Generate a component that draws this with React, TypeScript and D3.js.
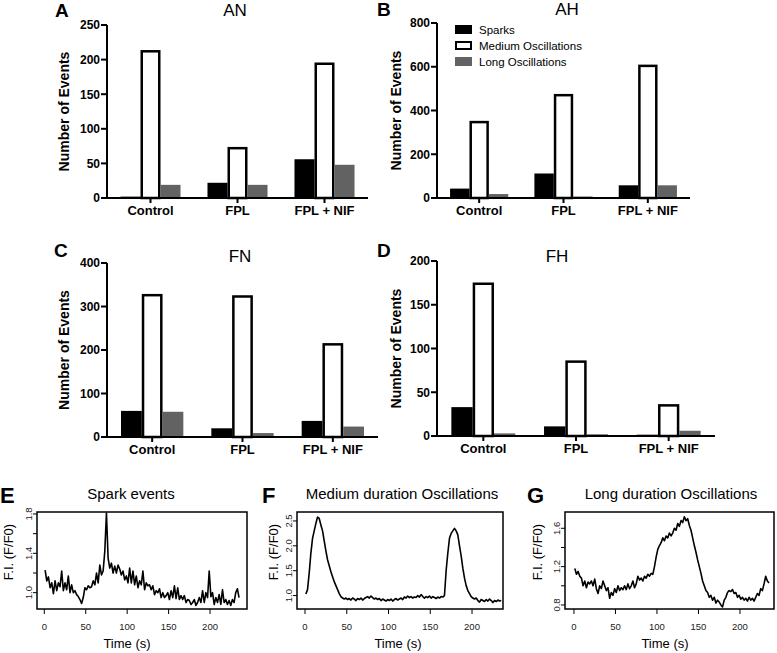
import * as d3 from "d3";

const groups = ["Control", "FPL", "FPL + NIF"];
const seriesNames = ["Sparks", "Medium Oscillations", "Long Oscillations"];
const seriesFill = ["#000000", "#ffffff", "#626262"];

// bar counts
const anSparks = [2, 22, 56];
const anMedium = [212, 72, 194];
const anLong = [19, 19, 48];

const ahSparks = [43, 112, 58];
const ahMedium = [347, 470, 604];
const ahLong = [18, 7, 58];

const fnSparks = [60, 20, 37];
const fnMedium = [326, 323, 213];
const fnLong = [58, 9, 24];

const fhSparks = [33, 11, 1.5];
const fhMedium = [174, 85, 35];
const fhLong = [3, 2, 6];

// example traces, sampled every 2 s starting at 1 s
const sparkTrace = [
  1.23, 1.12, 1.16, 1.05, 1.1, 0.99, 1.12, 1.02, 1.1, 1.06, 1.22, 1.02, 1.1, 1.03, 1.17, 1.0, 1.08, 1.0, 1.02, 0.98,
  0.96, 0.93, 0.89, 0.95, 1.05, 1.03, 1.07, 1.05, 1.06, 1.12, 1.08, 1.2, 1.1, 1.28, 1.18, 1.22, 1.42, 1.81, 1.35, 1.25,
  1.3, 1.2, 1.27, 1.2, 1.28, 1.24, 1.18, 1.22, 1.13, 1.17, 1.1, 1.25, 1.1, 1.22, 1.08, 1.17, 1.05, 1.12, 1.08, 1.22,
  1.03, 1.1, 1.07, 1.08, 1.03, 1.07, 0.98, 1.02, 1.0, 1.04, 0.95, 1.0, 0.95, 0.97, 1.0, 0.93, 1.02, 0.95, 1.07, 0.94,
  1.05, 0.93, 0.97, 0.93, 0.97, 0.9, 0.93, 0.92, 0.88, 0.9, 0.93, 0.87, 0.9, 0.95, 0.9, 1.02, 0.9, 1.0, 0.95, 1.22,
  0.96, 1.0, 0.88, 0.95, 0.9, 0.98, 0.88, 1.03, 0.9, 0.93, 0.88, 0.92, 0.87, 0.93, 0.9, 1.0, 1.04, 0.95,
];

const mediumTrace = [
  1.03, 1.12, 1.45, 1.85, 2.15, 2.3, 2.45, 2.58, 2.55, 2.42, 2.3, 2.1, 1.9, 1.72, 1.6, 1.48, 1.38, 1.28, 1.2, 1.12,
  1.04, 0.98, 0.95, 0.93, 0.95, 0.92, 0.94, 0.91, 0.95, 0.93, 0.9, 0.94, 0.92, 0.95, 0.91, 0.94, 0.96, 0.98, 0.95, 0.99,
  0.96, 0.93, 0.95, 0.92, 0.94, 0.9, 0.93, 0.91, 0.89, 0.92, 0.9, 0.93, 0.89, 0.92, 0.94, 0.91, 0.93, 0.95, 0.92, 0.97,
  0.95, 0.99, 0.96, 0.98, 0.95, 0.97, 0.96, 1.0, 0.97, 1.02, 0.98, 0.95, 0.98, 0.96, 0.99, 0.95, 0.98, 0.96, 0.94, 0.97,
  0.95, 0.98, 0.97, 1.0, 1.5, 1.85, 2.15, 2.25, 2.3, 2.35, 2.3, 2.22, 2.0, 1.8, 1.55, 1.35, 1.2, 1.1, 1.04, 0.98,
  0.95, 0.93, 0.95, 0.9, 0.87, 0.92, 0.9, 0.88, 0.92, 0.89, 0.93, 0.9, 0.86, 0.9, 0.88, 0.91, 0.89, 0.9,
];

const longTrace = [
  1.18, 1.12, 1.15, 1.1, 1.08, 1.0, 1.05, 0.98, 1.04, 1.02, 1.05, 1.0, 1.07, 0.97, 0.92, 1.0, 0.97, 1.05, 1.0, 0.95,
  0.98, 0.87, 0.93, 0.9, 0.97, 0.93, 1.0, 0.95, 0.98, 0.96, 1.0, 0.96, 1.02, 0.97, 1.0, 1.05, 0.98, 1.02, 1.1, 1.06,
  1.08, 1.05, 1.1, 1.08, 1.12, 1.1, 1.13, 1.12, 1.2, 1.3, 1.38, 1.42, 1.45, 1.5, 1.47, 1.52, 1.5, 1.55, 1.52, 1.55,
  1.6, 1.58, 1.65, 1.62, 1.68, 1.66, 1.72, 1.68, 1.7, 1.63, 1.58, 1.5, 1.42, 1.35, 1.27, 1.2, 1.13, 1.05, 1.0, 0.95,
  0.93, 0.88, 0.9, 0.85, 0.88, 0.82, 0.85, 0.83, 0.8, 0.78, 0.85, 0.88, 0.93, 0.95, 0.94, 0.96, 0.92, 0.93, 0.88, 0.9,
  0.86, 0.88, 0.85, 0.87, 0.84, 0.88, 0.85, 0.87, 0.84, 0.88, 0.92, 0.9, 0.97, 0.95, 1.02, 1.1, 1.05, 1.03,
];

const traceXTicks = [0, 50, 100, 150, 200];
const sparkYTicks = [1.0, 1.2, 1.4, 1.6, 1.8];
const sparkYLabels = [1.0, 1.4, 1.8];
const mediumYTicks = [1.0, 1.5, 2.0, 2.5];
const longYTicks = [0.8, 1.0, 1.2, 1.4, 1.6];
const longYLabels = [0.8, 1.2, 1.6];

const FONT = "'Liberation Sans', Arial, Helvetica, sans-serif";

const barPanels = [
  { letter: "A", title: "AN", left: 107, right: 368, top: 25, bottom: 198, yMax: 250, yStep: 50,
    letterX: 55, letterY: 17, titleX: 235, titleY: 16, yTitleX: 64,
    values: [anSparks, anMedium, anLong], legend: false },
  { letter: "B", title: "AH", left: 437, right: 690, top: 23, bottom: 198, yMax: 800, yStep: 200,
    letterX: 377, letterY: 16, titleX: 567, titleY: 15, yTitleX: 396,
    values: [ahSparks, ahMedium, ahLong], legend: true },
  { letter: "C", title: "FN", left: 107, right: 378, top: 263, bottom: 437, yMax: 400, yStep: 100,
    letterX: 54, letterY: 257, titleX: 240, titleY: 262, yTitleX: 64,
    values: [fnSparks, fnMedium, fnLong], legend: false },
  { letter: "D", title: "FH", left: 437, right: 715, top: 261, bottom: 436, yMax: 200, yStep: 50,
    letterX: 377, letterY: 257, titleX: 557, titleY: 262, yTitleX: 396,
    values: [fhSparks, fhMedium, fhLong], legend: false },
];

const tracePanels = [
  { letter: "E", title: "Spark events", left: 37, right: 247, xDomain: [-8.8, 244.6], yDomain: [0.834, 1.82],
    letterX: 0, titleX: 131, xTitleX: 127, yTitleX: 8, data: sparkTrace, yTicks: sparkYTicks, yLabels: sparkYLabels },
  { letter: "F", title: "Medium duration Oscillations", left: 297, right: 503, xDomain: [-9.6, 237.1], yDomain: [0.73, 2.68],
    letterX: 262, titleX: 402, xTitleX: 398, yTitleX: 273, data: mediumTrace, yTicks: mediumYTicks, yLabels: mediumYTicks },
  { letter: "G", title: "Long duration Oscillations", left: 565, right: 774, xDomain: [-10.8, 241], yDomain: [0.758, 1.77],
    letterX: 527, titleX: 671, xTitleX: 665, yTitleX: 537, data: longTrace, yTicks: longYTicks, yLabels: longYLabels },
];

function BarPanel({ p }: { p: any }) {
  const x = d3.scaleBand().domain(groups).range([p.left, p.right]).paddingInner(0.31).paddingOuter(0.155);
  const sub = d3.scaleBand().domain(seriesNames).range([0, x.bandwidth()]);
  const y = d3.scaleLinear().domain([0, p.yMax]).range([p.bottom, p.top]);
  const ticks = d3.range(0, p.yMax + 1, p.yStep);
  const midY = (p.top + p.bottom) / 2;

  return (
    <g fontFamily={FONT}>
      <text x={p.letterX} y={p.letterY} fontSize={19} fontWeight="bold">{p.letter}</text>
      <text x={p.titleX} y={p.titleY} fontSize={17} textAnchor="middle">{p.title}</text>
      <text transform={`translate(${p.yTitleX},${midY}) rotate(-90)`} dy="0.35em" fontSize={14}
        fontWeight="bold" textAnchor="middle">Number of Events</text>

      {groups.map((g, gi) =>
        seriesNames.map((s, si) => {
          const v = p.values[si][gi];
          const x0 = x(g)! + sub(s)!;
          const w = sub.bandwidth();
          if (si === 1) {
            return (
              <rect key={g + s} x={x0 + 1.25} y={y(v)} width={w - 2.5} height={p.bottom - y(v)}
                fill="#fff" stroke="#000" strokeWidth={2.5} />
            );
          }
          return <rect key={g + s} x={x0} y={y(v)} width={w} height={p.bottom - y(v)} fill={seriesFill[si]} />;
        })
      )}

      <line x1={p.left} x2={p.left} y1={p.top} y2={p.bottom} stroke="#000" strokeWidth={2} />
      <line x1={p.left} x2={p.right} y1={p.bottom} y2={p.bottom} stroke="#000" strokeWidth={2} />
      {ticks.map((t) => (
        <g key={t}>
          <line x1={p.left - 6} x2={p.left} y1={y(t)} y2={y(t)} stroke="#000" strokeWidth={2} />
          <text x={p.left - 7} y={y(t)} dy="0.36em" fontSize={12} fontWeight="bold" textAnchor="end">{t}</text>
        </g>
      ))}
      {groups.map((g) => {
        const cx = x(g)! + x.bandwidth() / 2;
        return (
          <g key={g}>
            <line x1={cx} x2={cx} y1={p.bottom} y2={p.bottom + 5} stroke="#000" strokeWidth={2} />
            <text x={cx} y={p.bottom + 17} fontSize={13} fontWeight="bold" textAnchor="middle">{g}</text>
          </g>
        );
      })}

      {p.legend &&
        seriesNames.map((s, i) => (
          <g key={s} transform={`translate(455,${25 + i * 16})`}>
            <rect x={i === 1 ? 1 : 0} y={i === 1 ? 1 : 0} width={i === 1 ? 15 : 17} height={i === 1 ? 7 : 9}
              fill={seriesFill[i]} stroke={i === 1 ? "#000" : "none"} strokeWidth={2} />
            <text x={24} y={4.5} dy="0.35em" fontSize={11.5}>{s}</text>
          </g>
        ))}
    </g>
  );
}

function TracePanel({ p }: { p: any }) {
  const top = 512;
  const bottom = 609;
  const x = d3.scaleLinear().domain(p.xDomain).range([p.left, p.right]);
  const y = d3.scaleLinear().domain(p.yDomain).range([bottom, top]);
  const time = p.data.map((_: number, i: number) => 1 + 2 * i);
  const line = d3
    .line<number>()
    .x((_, i) => x(time[i]))
    .y((d) => y(d));

  return (
    <g fontFamily={FONT}>
      <text x={p.letterX} y={503} fontSize={22} fontWeight="bold">{p.letter}</text>
      <text x={p.titleX} y={499} fontSize={15} textAnchor="middle">{p.title}</text>
      <rect x={p.left} y={top} width={p.right - p.left} height={bottom - top} fill="none" stroke="#000" strokeWidth={1.5} />
      <path d={line(p.data)!} fill="none" stroke="#000" strokeWidth={1.6} strokeLinejoin="round" />

      {traceXTicks.map((t) => (
        <g key={t}>
          <line x1={x(t)} x2={x(t)} y1={bottom} y2={bottom + 5} stroke="#000" strokeWidth={1} />
          <text x={x(t)} y={630} fontSize={9.5} fill="#222" textAnchor="middle">{t}</text>
        </g>
      ))}
      {p.yTicks.map((t: number) => (
        <line key={t} x1={p.left - 4} x2={p.left} y1={y(t)} y2={y(t)} stroke="#000" strokeWidth={1} />
      ))}
      {p.yLabels.map((t: number) => (
        <text key={t} transform={`translate(${p.left - 5},${y(t)}) rotate(-90)`} fontSize={9.5} fill="#222"
          textAnchor="middle">{t.toFixed(1)}</text>
      ))}
      <text transform={`translate(${p.yTitleX},552) rotate(-90)`} dy="0.35em" fontSize={13} textAnchor="middle">
        F.I. (F/F0)
      </text>
      <text x={p.xTitleX} y={648} fontSize={13} textAnchor="middle">Time (s)</text>
    </g>
  );
}

export default function App() {
  return (
    <svg width={777} height={653} style={{ position: "absolute", left: 0, top: 0, background: "#fff" }}>
      {barPanels.map((p) => (
        <BarPanel key={p.letter} p={p} />
      ))}
      {tracePanels.map((p) => (
        <TracePanel key={p.letter} p={p} />
      ))}
    </svg>
  );
}
